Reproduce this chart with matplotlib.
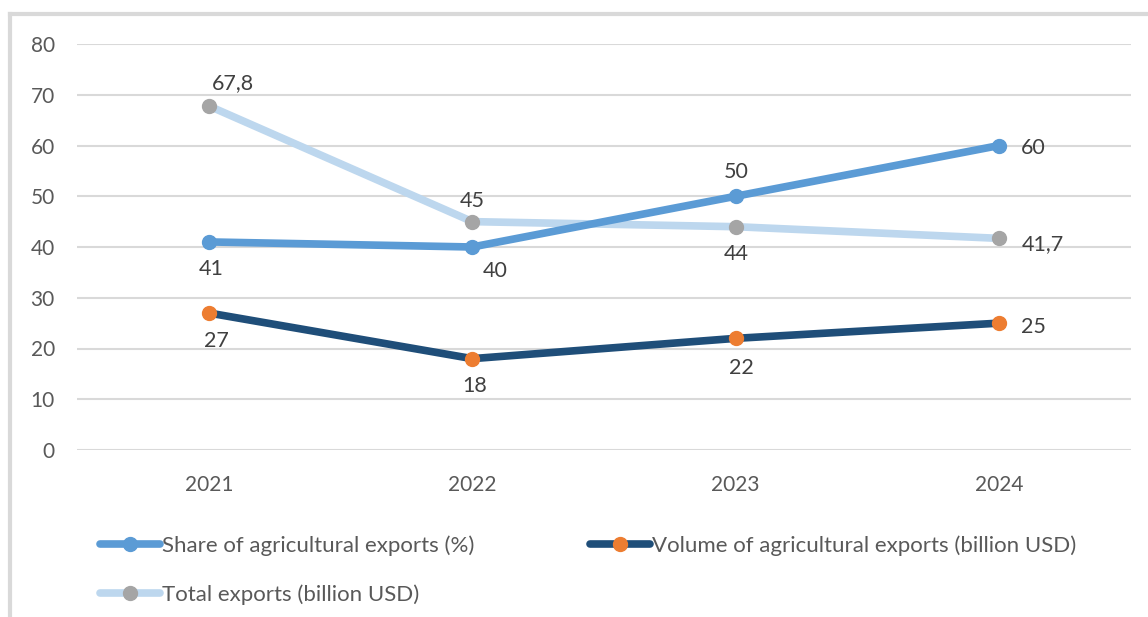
import matplotlib
matplotlib.use("Agg")
import matplotlib.pyplot as plt
from matplotlib.lines import Line2D

years = ["2021", "2022", "2023", "2024"]
share = [41, 40, 50, 60]
volume = [27, 18, 22, 25]
total = [67.8, 45, 44, 41.7]

share_lbl = ["41", "40", "50", "60"]
volume_lbl = ["27", "18", "22", "25"]
total_lbl = ["67,8", "45", "44", "41,7"]

# label offsets in pixels (dx, dy, ha)
share_off = [(2, -27, "center"), (23, -24, "center"), (0, 24, "center"), (22, -3, "left")]
volume_off = [(8, -28, "center"), (2, -27, "center"), (6, -30, "center"), (22, -4, "left")]
total_off = [(24, 23, "center"), (0, 21, "center"), (0, -27, "center"), (22, -6, "left")]

plt.rcParams['font.family'] = ['Lato', 'DejaVu Sans']

fig = plt.figure(figsize=(11.48, 6.17), dpi=100)
ax = fig.add_axes([77 / 1148, 1 - 450 / 617, (1131 - 77) / 1148, (450 - 44) / 617])

x = list(range(len(years)))
l1, = ax.plot(x, share, color='#5B9BD5', lw=5.5, marker='o', ms=10,
              markerfacecolor='#5B9BD5', markeredgecolor='#5B9BD5',
              solid_capstyle='round', label='Share of agricultural exports (%)', zorder=3)
l2, = ax.plot(x, volume, color='#1F4E79', lw=5.5, marker='o', ms=10,
              markerfacecolor='#ED7D31', markeredgecolor='#ED7D31',
              solid_capstyle='round', label='Volume of agricultural exports (billion USD)', zorder=3)
l3, = ax.plot(x, total, color='#BDD7EE', lw=5.5, marker='o', ms=10,
              markerfacecolor='#A5A5A5', markeredgecolor='#A5A5A5',
              solid_capstyle='round', label='Total exports (billion USD)', zorder=2)

for vals, lbls, offs in [(share, share_lbl, share_off), (volume, volume_lbl, volume_off),
                         (total, total_lbl, total_off)]:
    for i in range(len(vals)):
        dx, dy, ha = offs[i]
        ax.annotate(lbls[i], (x[i], vals[i]), xytext=(dx, dy), textcoords='offset pixels',
                    ha=ha, va='center', fontsize=15.5, color='#404040')

ax.set_xlim(-0.5, len(years) - 0.5)
ax.set_ylim(0, 80)
ax.set_yticks(range(0, 81, 10))
ax.set_xticks(x)
ax.set_xticklabels(years)
ax.grid(axis='y', color='#D9D9D9', lw=1.5)
ax.set_axisbelow(True)
for s in ax.spines.values():
    s.set_visible(False)
ax.tick_params(axis='both', length=0, labelsize=15, labelcolor='#595959')
ax.tick_params(axis='y', pad=16)
ax.tick_params(axis='x', pad=18)

# column-wise fill: Share, Total in first column; Volume in second
fig.legend(handles=[l1, l3, l2], loc='upper left', bbox_to_anchor=(100 / 1148, 1 - 535 / 617),
           ncol=2, frameon=False, fontsize=16, labelcolor='#595959',
           handlelength=2.7, handletextpad=0.1, columnspacing=5.2, labelspacing=1.3,
           borderaxespad=0, borderpad=0)

# outer chart border (partly cropped)
fig.add_artist(Line2D([10 / 1148, 10 / 1148], [0, 1 - 14 / 617], transform=fig.transFigure,
                      color='#D9D9D9', lw=3))
fig.add_artist(Line2D([10 / 1148, 1], [1 - 14 / 617, 1 - 14 / 617], transform=fig.transFigure,
                      color='#D9D9D9', lw=3))

fig.savefig("out.png", dpi=100)
